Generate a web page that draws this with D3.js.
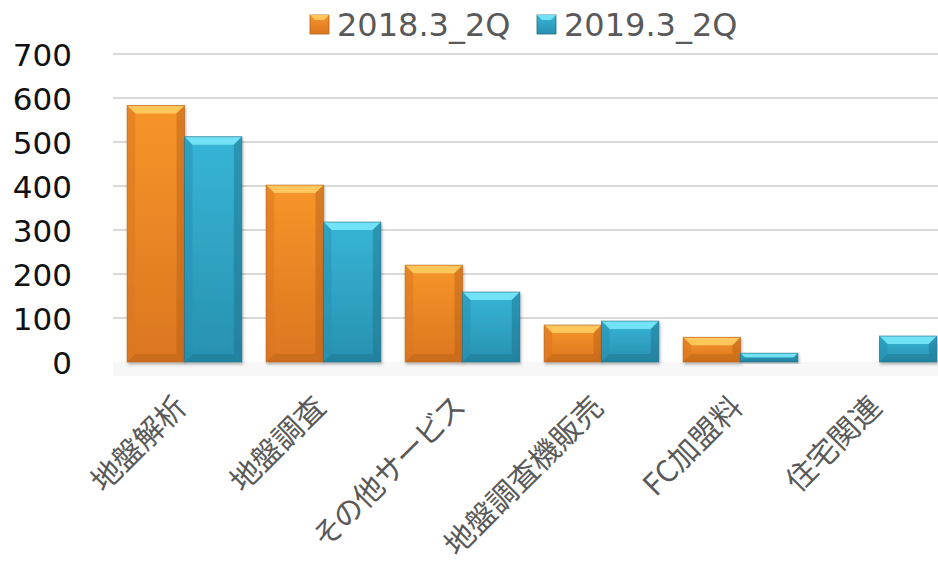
<!DOCTYPE html>
<html>
<head>
<meta charset="utf-8">
<script src="https://cdn.jsdelivr.net/npm/d3@7"></script>
<style>
  body { margin: 0; background: #fff; }
  #chart { width: 938px; height: 567px; overflow: hidden; }
  .xlab { font-feature-settings: "palt"; }
</style>
</head>
<body>
<div id="chart"></div>
<script>
const categories = ["地盤解析", "地盤調査", "その他サービス", "地盤調査機販売", "FC加盟料", "住宅関連"];
const seriesNames = ["2018.3_2Q", "2019.3_2Q"];
const values2018 = [583, 402, 220, 84, 56, null];
const values2019 = [512, 318, 159, 93, 20, 59];
const yTicks = [0, 100, 200, 300, 400, 500, 600, 700];

const width = 938;
const height = 567;
const margin = { top: 54, right: -11, bottom: 205, left: 115 };
const innerWidth = width - margin.left - margin.right;
const innerHeight = height - margin.top - margin.bottom;

const palette = [
    { base: "#F7952A", dark: "#DC7620", light: "#FFC65C", edge: "#B35E18" },
    { base: "#37B5D6", dark: "#2891B1", light: "#72E2F7", edge: "#1E6E87" }
];

const svg = d3.select("#chart")
    .append("svg")
    .attr("width", width)
    .attr("height", height);

const defs = svg.append("defs");
palette.forEach((c, i) => {
    const g = defs.append("linearGradient")
        .attr("id", "grad" + i)
        .attr("x1", 0).attr("y1", 0).attr("x2", 0).attr("y2", 1);
    g.append("stop").attr("offset", "0%").attr("stop-color", c.base);
    g.append("stop").attr("offset", "100%").attr("stop-color", c.dark);
});
const shadow = defs.append("filter").attr("id", "shadow")
    .attr("x", "-10%").attr("y", "-10%").attr("width", "130%").attr("height", "130%");
shadow.append("feDropShadow").attr("dx", 1).attr("dy", 2).attr("stdDeviation", 1.5)
    .attr("flood-color", "#000").attr("flood-opacity", 0.3);

const g = svg.append("g")
    .attr("transform", `translate(${margin.left}, ${margin.top})`);

const xScale = d3.scaleBand()
    .domain(categories)
    .range([0, innerWidth])
    .paddingInner(0.175)
    .paddingOuter(0.0875);

const xSub = d3.scaleBand()
    .domain(seriesNames)
    .range([0, xScale.bandwidth()]);

const yScale = d3.scaleLinear()
    .domain([0, 700])
    .range([innerHeight, 0]);

// plot floor
g.append("rect")
    .attr("x", -2).attr("y", innerHeight)
    .attr("width", innerWidth + 4).attr("height", 14)
    .attr("fill", "#f7f7f7");

// gridlines
g.append("g")
    .selectAll("line")
    .data(yTicks)
    .join("line")
    .attr("x1", -2)
    .attr("x2", innerWidth)
    .attr("y1", d => yScale(d))
    .attr("y2", d => yScale(d))
    .attr("stroke", d => d === 0 ? "#d0d0d0" : "#d9d9d9")
    .attr("stroke-width", d => d === 0 ? 3 : 2)
    .attr("filter", d => d === 0 ? "url(#shadow)" : null);

// y axis labels
const yAxis = d3.axisLeft(yScale).tickValues(yTicks).tickSize(0).tickPadding(43);
const yg = g.append("g").call(yAxis);
yg.select(".domain").remove();
yg.selectAll("text")
    .attr("font-family", "Verdana, 'DejaVu Sans', sans-serif")
    .attr("font-size", 31)
    .attr("fill", "#111")
    .attr("dy", "0.36em");

// bars
const bars = [];
categories.forEach((cat, i) => {
    [values2018[i], values2019[i]].forEach((v, s) => {
        if (v == null) return;
        bars.push({ cat, s, v });
    });
});

const barG = g.append("g")
    .selectAll("g")
    .data(bars)
    .join("g")
    .attr("filter", "url(#shadow)");

barG.each(function(d) {
    const x0 = xScale(d.cat) + xSub(seriesNames[d.s]);
    const w = xSub.bandwidth();
    const y0 = yScale(d.v);
    const h = yScale(0) - y0;
    const c = palette[d.s];
    const b = Math.min(8, h / 2, w / 2);
    const sel = d3.select(this);
    sel.append("rect")
        .attr("x", x0).attr("y", y0).attr("width", w).attr("height", h)
        .attr("fill", `url(#grad${d.s})`);
    // top bevel
    sel.append("polygon")
        .attr("points", [[x0, y0], [x0 + w, y0], [x0 + w - b, y0 + b], [x0 + b, y0 + b]].join(" "))
        .attr("fill", c.light);
    // left bevel
    sel.append("polygon")
        .attr("points", [[x0, y0], [x0 + b, y0 + b], [x0 + b, y0 + h - b], [x0, y0 + h]].join(" "))
        .attr("fill", c.dark).attr("opacity", 0.55);
    // right bevel
    sel.append("polygon")
        .attr("points", [[x0 + w, y0], [x0 + w - b, y0 + b], [x0 + w - b, y0 + h - b], [x0 + w, y0 + h]].join(" "))
        .attr("fill", c.edge).attr("opacity", 0.45);
    // bottom bevel
    sel.append("polygon")
        .attr("points", [[x0, y0 + h], [x0 + b, y0 + h - b], [x0 + w - b, y0 + h - b], [x0 + w, y0 + h]].join(" "))
        .attr("fill", c.edge).attr("opacity", 0.4);
    sel.append("rect")
        .attr("x", x0).attr("y", y0).attr("width", w).attr("height", h)
        .attr("fill", "none").attr("stroke", c.edge).attr("stroke-width", 1).attr("opacity", 0.6);
});

// x axis labels
const xAxis = d3.axisBottom(xScale).tickSize(0).tickPadding(0);
const xg = g.append("g")
    .attr("transform", `translate(0, ${innerHeight})`)
    .call(xAxis);
xg.select(".domain").remove();
xg.selectAll("text")
    .attr("class", "xlab")
    .attr("font-family", "'Noto Sans CJK JP', sans-serif")
    .attr("font-size", 30)
    .attr("fill", "#595959")
    .attr("text-anchor", "end")
    .attr("dy", 0)
    .attr("transform", "translate(4, 47) rotate(-45)");

// legend
const legend = svg.append("g");
const legendX = [310, 537];
seriesNames.forEach((name, i) => {
    const c = palette[i];
    const lg = legend.append("g").attr("transform", `translate(${legendX[i]}, 15)`);
    lg.append("rect").attr("width", 19).attr("height", 19).attr("fill", `url(#grad${i})`)
        .attr("stroke", c.edge).attr("stroke-width", 0.8);
    lg.append("polygon").attr("points", "0,0 19,0 14,5 5,5").attr("fill", c.light);
    lg.append("text")
        .attr("x", 27).attr("y", 21)
        .attr("font-family", "Verdana, 'DejaVu Sans', sans-serif")
        .attr("font-size", 32)
        .attr("fill", "#595959")
        .text(name);
});
</script>
</body>
</html>
